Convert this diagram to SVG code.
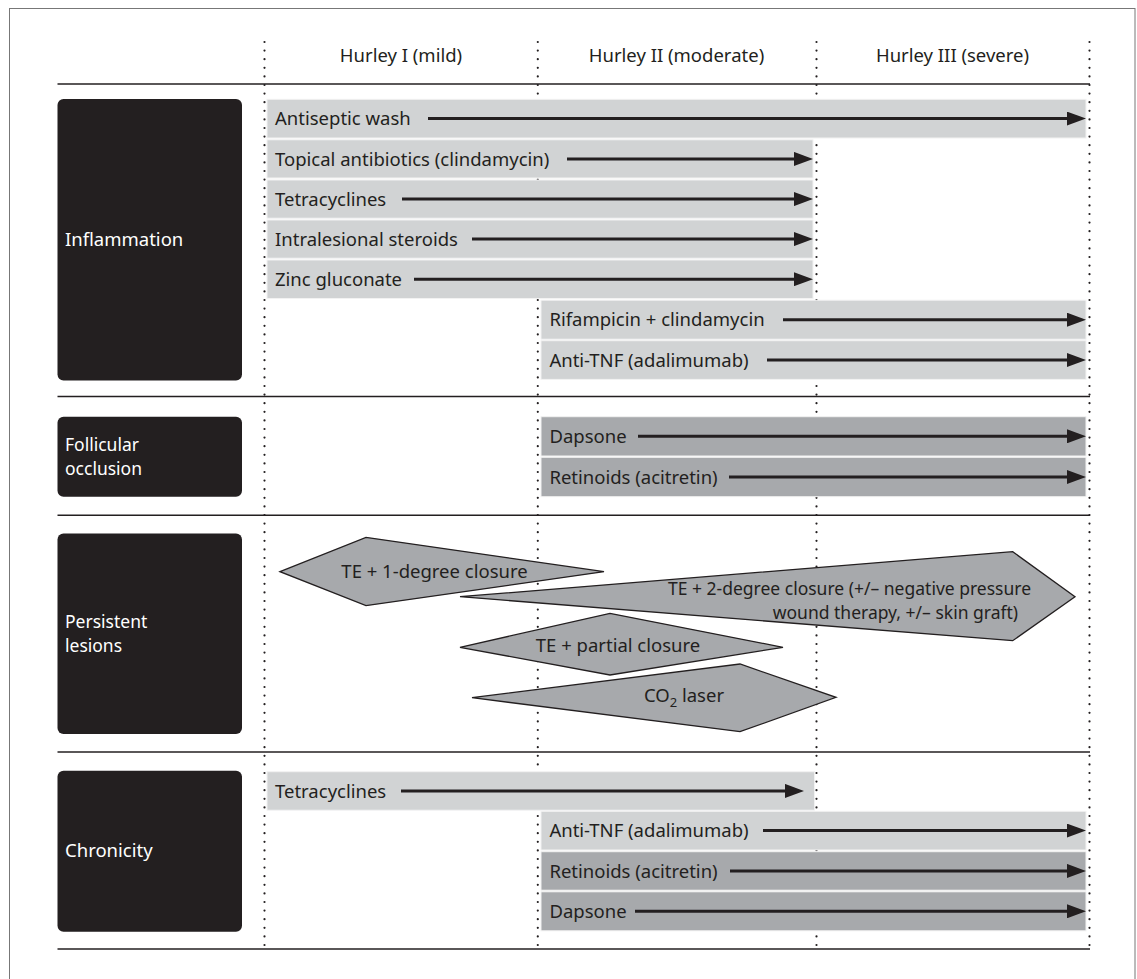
<svg xmlns="http://www.w3.org/2000/svg" width="1137" height="979" viewBox="0 0 1137 979">
<defs>
<style>
text{font-family:"Noto Sans","Open Sans","DejaVu Sans",sans-serif;font-size:18.5px;fill:#231f20}
.hdr{text-anchor:middle}
.lbl{fill:#ffffff}
.two{font-size:17.5px}
.cat{fill:#231f20}
.light{fill:#d1d3d4;stroke:#f2f2f2;stroke-width:1}
.dark{fill:#a7a9ac;stroke:#f2f2f2;stroke-width:1}
.sep{stroke:#231f20;stroke-width:1.4;fill:none}
.dot{stroke:#231f20;stroke-width:2.2;stroke-linecap:round;stroke-dasharray:0 8.6;fill:none}
.poly{fill:#a7a9ac;stroke:#231f20;stroke-width:1.3;stroke-linejoin:miter}
.arr{stroke:#231f20;stroke-width:3;fill:none;marker-end:url(#ah)}
</style>
<marker id="ah" viewBox="0 0 19 14" refX="7" refY="7" markerWidth="19" markerHeight="14" markerUnits="userSpaceOnUse" orient="auto">
<path d="M0,0 L19,7 L0,14 Z" fill="#231f20"/>
</marker>
</defs>
<rect x="9.5" y="8.5" width="1125.5" height="1000" fill="#ffffff" stroke="#777777" stroke-width="1"/>

<g id="grid">
<line class="sep" x1="57.5" y1="84" x2="1090" y2="84"/>
<line class="sep" x1="57.5" y1="396.5" x2="1090" y2="396.5"/>
<line class="sep" x1="57.5" y1="515.3" x2="1090" y2="515.3"/>
<line class="sep" x1="57.5" y1="752" x2="1090" y2="752"/>
<line class="sep" x1="57.5" y1="949" x2="1090" y2="949"/>
<line class="dot" x1="264.5" y1="42" x2="264.5" y2="949"/>
<line class="dot" x1="537.8" y1="42" x2="537.8" y2="949"/>
<line class="dot" x1="816.5" y1="42" x2="816.5" y2="949"/>
<line class="dot" x1="1089.5" y1="42" x2="1089.5" y2="949"/>
</g>

<g id="header">
<text class="hdr" x="401" y="62">Hurley I (mild)</text>
<text class="hdr" x="676.5" y="62">Hurley II (moderate)</text>
<text class="hdr" x="952.5" y="62">Hurley III (severe)</text>
</g>

<g id="cat-inflammation">
<rect class="cat" x="57.5" y="99" width="184.5" height="281.5" rx="6"/>
<text class="lbl" x="65" y="246">Inflammation</text>
</g>
<g id="cat-follicular">
<rect class="cat" x="57.5" y="416.7" width="184.5" height="80" rx="6"/>
<text class="lbl two" x="65" y="451">Follicular</text>
<text class="lbl two" x="65" y="475">occlusion</text>
</g>
<g id="cat-persistent">
<rect class="cat" x="57.5" y="533.5" width="184.5" height="200.5" rx="6"/>
<text class="lbl two" x="65" y="627.5">Persistent</text>
<text class="lbl two" x="65" y="651.5">lesions</text>
</g>
<g id="cat-chronicity">
<rect class="cat" x="57.5" y="770.7" width="184.5" height="161" rx="6"/>
<text class="lbl" x="65" y="857">Chronicity</text>
</g>

<g id="bars">
<g id="bar-antiseptic"><rect class="light" x="267" y="99.3" width="819" height="38.7"/><text x="275" y="125">Antiseptic wash</text></g>
<g id="bar-topical"><rect class="light" x="267" y="139.8" width="546" height="38.2"/><text x="275" y="165.5">Topical antibiotics (clindamycin)</text></g>
<g id="bar-tetra1"><rect class="light" x="267" y="180" width="546" height="38.2"/><text x="275" y="205.5">Tetracyclines</text></g>
<g id="bar-intralesional"><rect class="light" x="267" y="220" width="546" height="38.2"/><text x="275" y="245.5">Intralesional steroids</text></g>
<g id="bar-zinc"><rect class="light" x="267" y="260" width="546" height="38.5"/><text x="275" y="285.7">Zinc gluconate</text></g>
<g id="bar-rifampicin"><rect class="light" x="541" y="300.2" width="545" height="39"/><text x="549.4" y="326">Rifampicin + clindamycin</text></g>
<g id="bar-antitnf1"><rect class="light" x="541" y="340.7" width="545" height="38.7"/><text x="549.4" y="366.5">Anti-TNF (adalimumab)</text></g>
<g id="bar-dapsone1"><rect class="dark" x="541" y="416.7" width="545" height="39.3"/><text x="549.4" y="442.8">Dapsone</text></g>
<g id="bar-retinoids1"><rect class="dark" x="541" y="457.3" width="545" height="39.4"/><text x="549.4" y="483.5">Retinoids (acitretin)</text></g>
<g id="bar-tetra2"><rect class="light" x="267" y="771.7" width="547.5" height="38.5"/><text x="275" y="797.5">Tetracyclines</text></g>
<g id="bar-antitnf2"><rect class="light" x="541" y="811.3" width="545" height="38.7"/><text x="549.4" y="837">Anti-TNF (adalimumab)</text></g>
<g id="bar-retinoids2"><rect class="dark" x="541" y="851.7" width="545" height="38.5"/><text x="549.4" y="877.5">Retinoids (acitretin)</text></g>
<g id="bar-dapsone2"><rect class="dark" x="541" y="891.8" width="545" height="39"/><text x="549.4" y="917.8">Dapsone</text></g>
</g>

<g id="surgery">
<g id="te1"><polygon class="poly" points="280,571.7 366,537.3 604,571.7 366,605.7"/><text class="hdr" x="434.5" y="577.5">TE + 1-degree closure</text></g>
<g id="te2"><polygon class="poly" points="460,596.7 1012.7,551.7 1075,596.7 1012.7,640.7"/>
<text class="hdr two" x="849.5" y="595">TE + 2-degree closure (+/– negative pressure</text>
<text class="hdr two" x="895.4" y="619">wound therapy, +/– skin graft)</text></g>
<g id="tepartial"><polygon class="poly" points="460,647.3 610,613.3 783,647.3 610,675"/><text class="hdr" x="618" y="652">TE + partial closure</text></g>
<g id="co2"><polygon class="poly" points="472,697.7 740,664 836,697.3 740,731.7"/><text class="hdr" x="684" y="702">CO<tspan font-size="13" dy="5">2</tspan><tspan dy="-5"> laser</tspan></text></g>
</g>

<g id="connectors">
<path class="arr" d="M428,118.6 H1074"/>
<path class="arr" d="M567,158.9 H801"/>
<path class="arr" d="M402,199.1 H801"/>
<path class="arr" d="M472,239.1 H801"/>
<path class="arr" d="M414,279.2 H801"/>
<path class="arr" d="M783,319.7 H1074"/>
<path class="arr" d="M767,360 H1074"/>
<path class="arr" d="M638,436.3 H1074"/>
<path class="arr" d="M729,477 H1074"/>
<path class="arr" d="M401,790.9 H792"/>
<path class="arr" d="M763,830.6 H1074"/>
<path class="arr" d="M730,870.9 H1074"/>
<path class="arr" d="M635,911.3 H1074"/>
</g>
</svg>
